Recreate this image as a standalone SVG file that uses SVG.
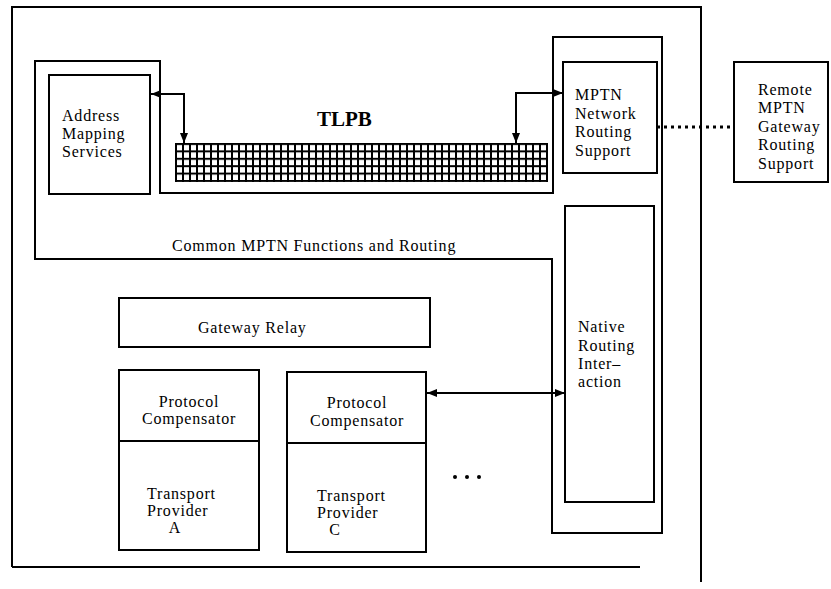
<svg xmlns="http://www.w3.org/2000/svg" width="831" height="589" viewBox="0 0 831 589">
<style>
.b{fill:none;stroke:#000;stroke-width:2}
.c{fill:none;stroke:#000;stroke-width:2}
.t{font-family:"Liberation Serif","Times New Roman",serif;font-size:16px;letter-spacing:0.8px;fill:#000}
.tm{text-anchor:middle}
</style>
<defs>
<pattern id="grid" patternUnits="userSpaceOnUse" x="175" y="143" width="7" height="7.4">
<rect x="0" y="0" width="7" height="7.4" fill="#000"/>
<rect x="2" y="2" width="5" height="5.4" fill="#fff"/>
</pattern>
<marker id="ah" viewBox="0 0 10 8" refX="10" refY="4" markerWidth="10" markerHeight="8" markerUnits="userSpaceOnUse" orient="auto-start-reverse">
<path d="M0,0 L10,4 L0,8 z" fill="#000"/>
</marker>
</defs>
<rect width="831" height="589" fill="#fff"/>

<g id="outer">
<path class="b" d="M12,567 L12,7 L701,7 L701,582"/>
<path class="b" d="M12,567 L640,567"/>
</g>

<g id="common">
<path class="b" d="M35,61 L160,61 L160,193 L553,193 L553,37 L662,37 L662,533 L552,533 L552,259 L35,259 Z"/>
<text class="t" x="172" y="251">Common MPTN Functions and Routing</text>
</g>

<g id="address">
<rect class="b" x="49" y="75" width="101" height="119"/>
<text class="t" x="62" y="121">Address</text>
<text class="t" x="62" y="139">Mapping</text>
<text class="t" x="62" y="157">Services</text>
</g>

<g id="tlpb">
<text x="317" y="126" style="font-family:'Liberation Serif','Times New Roman',serif;font-size:21px;font-weight:bold">TLPB</text>
<rect x="175" y="143" width="373" height="39" fill="url(#grid)"/>
</g>

<g id="mptn">
<rect class="b" x="563" y="62" width="94" height="111"/>
<text class="t" x="575" y="100">MPTN</text>
<text class="t" x="575" y="119">Network</text>
<text class="t" x="575" y="137">Routing</text>
<text class="t" x="575" y="156">Support</text>
</g>

<g id="remote">
<rect class="b" x="734" y="62" width="94" height="120"/>
<text class="t" x="758" y="95">Remote</text>
<text class="t" x="758" y="113">MPTN</text>
<text class="t" x="758" y="132">Gateway</text>
<text class="t" x="758" y="150">Routing</text>
<text class="t" x="758" y="169">Support</text>
</g>

<g id="native">
<rect class="b" x="565" y="206" width="89" height="296"/>
<text class="t" x="578" y="332">Native</text>
<text class="t" x="578" y="351">Routing</text>
<text class="t" x="578" y="369">Inter–</text>
<text class="t" x="578" y="387">action</text>
</g>

<g id="gateway-relay">
<rect class="b" x="119" y="298" width="311" height="49"/>
<text class="t" x="198" y="333">Gateway Relay</text>
</g>

<g id="provider-a">
<rect class="b" x="119" y="370" width="140" height="180"/>
<line class="b" x1="119" y1="441" x2="259" y2="441"/>
<text class="t tm" x="189" y="407">Protocol</text>
<text class="t tm" x="189" y="424">Compensator</text>
<text class="t" x="147" y="499">Transport</text>
<text class="t" x="147" y="516">Provider</text>
<text class="t tm" x="175" y="533">A</text>
</g>

<g id="provider-c">
<rect class="b" x="287" y="372" width="139" height="180"/>
<line class="b" x1="287" y1="443" x2="426" y2="443"/>
<text class="t tm" x="357" y="408">Protocol</text>
<text class="t tm" x="357" y="426">Compensator</text>
<text class="t" x="317" y="501">Transport</text>
<text class="t" x="317" y="518">Provider</text>
<text class="t tm" x="335" y="535">C</text>
</g>

<g id="ellipsis">
<circle cx="455" cy="477" r="2"/>
<circle cx="467" cy="477" r="2"/>
<circle cx="479" cy="477" r="2"/>
</g>

<g id="connectors">
<path class="c" d="M151,94 L184,94 L184,143" marker-start="url(#ah)" marker-end="url(#ah)"/>
<path class="c" d="M516,143 L516,93 L563,93" marker-start="url(#ah)" marker-end="url(#ah)"/>
<path class="c" d="M427,393 L565,393" marker-start="url(#ah)" marker-end="url(#ah)"/>
<path d="M657,127 L734,127" fill="none" stroke="#000" stroke-width="3" stroke-dasharray="3,4"/>
</g>
</svg>
